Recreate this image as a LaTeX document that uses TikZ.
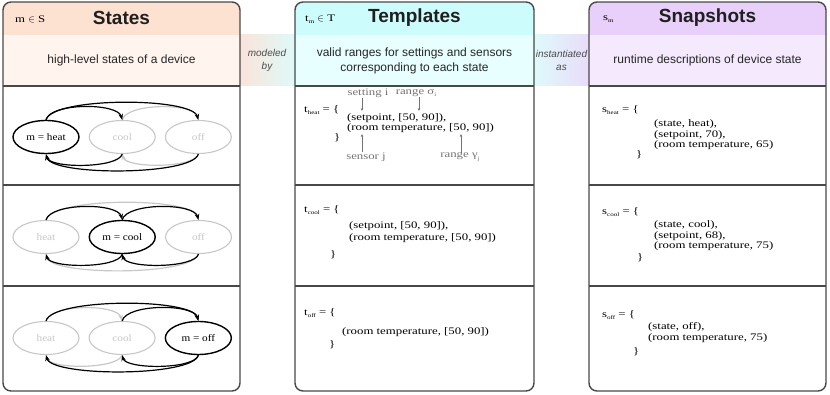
\documentclass[tikz,border=0pt]{standalone}
\usepackage{fontspec}
\setmainfont{Liberation Serif}
\setsansfont{Liberation Sans}
\newfontfamily\wideserif[FakeStretch=1.28]{Liberation Serif}
\newfontfamily\ovalserif[FakeStretch=1.12]{Liberation Serif}
\usepackage{tikz}
\usetikzlibrary{arrows.meta, positioning, shapes.geometric}
\definecolor{stHead}{RGB}{253,226,210}
\definecolor{stSub}{RGB}{255,244,238}
\definecolor{tmHead}{RGB}{204,252,252}
\definecolor{tmSub}{RGB}{232,255,255}
\definecolor{snHead}{RGB}{232,208,250}
\definecolor{snSub}{RGB}{245,233,253}
\definecolor{bandA}{RGB}{250,228,218}
\definecolor{bandB}{RGB}{222,250,250}
\definecolor{bandC}{RGB}{234,220,250}
\definecolor{frame}{RGB}{72,72,72}
\newcommand{\lowidx}[1]{\raisebox{-0.45ex}{\fontsize{5.5}{6}\selectfont #1}}

\begin{document}
\begin{tikzpicture}[x=1pt, y=1pt,
    every node/.style={inner sep=0pt},
    head/.style={font=\sffamily\bfseries\fontsize{19}{19}\selectfont, text=black!88},
    tag/.style={font=\wideserif\fontsize{10}{10}\selectfont, anchor=west},
    sub/.style={font=\sffamily\fontsize{12}{15}\selectfont, text=black!85, align=center},
    band/.style={font=\sffamily\itshape\fontsize{10}{13}\selectfont, text=black!70, align=center},
    code/.style={font=\wideserif\fontsize{10}{10.5}\selectfont, align=left, anchor=west},
    note/.style={font=\wideserif\fontsize{10}{10}\selectfont, text=black!55},
    ann/.style={-{Stealth[length=3pt,width=2.6pt]}, draw=black!55, line width=0.5pt},
    st/.style={ellipse, draw=black!22, line width=1.1pt, minimum width=66pt, minimum height=33pt,
               text=black!22, font=\ovalserif\fontsize{10}{10}\selectfont},
    cur/.style={st, draw=black, text=black, line width=1.4pt},
    tr/.style={-{Stealth[length=6pt,width=4.5pt]}, line width=1.2pt},
    trg/.style={tr, draw=black!22},
    arcup/.style={out=75, in=105, looseness=#1},
    arcdn/.style={out=-105, in=-75, looseness=#1},
    panel/.style={draw=frame, line width=1.4pt, rounded corners=8pt},
    rule/.style={draw=frame, line width=1.2pt}
  ]
    \useasboundingbox (0,0) rectangle (830,-395);

    % bands between the panels
    \shade[left color=bandA, right color=bandB] (240,-35) rectangle (295,-86);
    \shade[left color=bandB, right color=bandC] (534,-35) rectangle (589,-86);

    % panels
    \begin{scope}
      \clip[rounded corners=8pt] (3,-2) rectangle (240,-391);
      \fill[stHead] (3,-2) rectangle (240,-35);
      \fill[stSub] (3,-35) rectangle (240,-86);
    \end{scope}
    \begin{scope}
      \clip[rounded corners=8pt] (295,-2) rectangle (534,-391);
      \fill[tmHead] (295,-2) rectangle (534,-35);
      \fill[tmSub] (295,-35) rectangle (534,-86);
    \end{scope}
    \begin{scope}
      \clip[rounded corners=8pt] (589,-2) rectangle (826,-391);
      \fill[snHead] (589,-2) rectangle (826,-35);
      \fill[snSub] (589,-35) rectangle (826,-86);
    \end{scope}
    \draw[panel] (3,-2) rectangle (240,-391);
    \draw[panel] (295,-2) rectangle (534,-391);
    \draw[panel] (589,-2) rectangle (826,-391);
    \draw[rule] (3,-86) -- (240,-86) (3,-185) -- (240,-185) (3,-286) -- (240,-286);
    \draw[rule] (295,-86) -- (534,-86) (295,-185) -- (534,-185) (295,-286) -- (534,-286);
    \draw[rule] (589,-86) -- (826,-86) (589,-185) -- (826,-185) (589,-286) -- (826,-286);

    % headers
    \node[tag]  (mS)     at (15,-19)    {m $\in$ S};
    \node[head] (statesH) at (121.5,-18) {States};
    \node[tag]  (tT)     at (305,-19)   {t\lowidx{m} $\in$ T};
    \node[head] (tmplH)  at (414.5,-18) {Templates};
    \node[tag]  (sm)     at (603,-19)   {s\lowidx{m}};
    \node[head] (snapH)  at (707.5,-18) {Snapshots};

    \node[sub]  (stSubT) at (121.5,-60) {high-level states of a device};
    \node[sub]  (tmSubT) at (414.5,-60.5) {valid ranges for settings and sensors\\corresponding to each state};
    \node[sub]  (snSubT) at (707.5,-60) {runtime descriptions of device state};
    \node[band] (modeled) at (267,-60)  {modeled\\by};
    \node[band] (inst)    at (561.5,-60) {instantiated\\as};

    % states: heat
    \node[cur] (heatA) at (46,-137) {m = heat};
    \node[st, right=9pt of heatA] (coolA) {cool};
    \node[st, right=9pt of coolA] (offA)  {off};
    \draw[trg] (coolA.north) to[arcup=0.6] (offA.north);
    \draw[trg] (offA.south) to[arcdn=0.5] (coolA.south);
    \draw[tr] (heatA.north) to[arcup=0.6] (coolA.north);
    \draw[tr] (heatA.north) to[arcup=0.4] (offA.north);
    \draw[tr] (coolA.south) to[arcdn=0.5] (heatA.south);
    \draw[tr] (offA.south) to[arcdn=0.38] (heatA.south);

    % states: cool
    \node[st] (heatB) at (46,-237) {heat};
    \node[cur, right=9pt of heatB] (coolB) {m = cool};
    \node[st, right=9pt of coolB] (offB)  {off};
    \draw[trg] (heatB.north) to[arcup=0.4] (offB.north);
    \draw[trg] (offB.south) to[arcdn=0.38] (heatB.south);
    \draw[tr] (heatB.north) to[arcup=0.6] (coolB.north);
    \draw[tr] (coolB.north) to[arcup=0.6] (offB.north);
    \draw[tr] (coolB.south) to[arcdn=0.5] (heatB.south);
    \draw[tr] (offB.south) to[arcdn=0.5] (coolB.south);

    % states: off
    \node[st] (heatC) at (46,-338) {heat};
    \node[st, right=9pt of heatC] (coolC) {cool};
    \node[cur, right=9pt of coolC] (offC)  {m = off};
    \draw[trg] (heatC.north) to[arcup=0.6] (coolC.north);
    \draw[trg] (coolC.south) to[arcdn=0.5] (heatC.south);
    \draw[tr] (heatC.north) to[arcup=0.4] (offC.north);
    \draw[tr] (coolC.north) to[arcup=0.6] (offC.north);
    \draw[tr] (offC.south) to[arcdn=0.5] (coolC.south);
    \draw[tr] (offC.south) to[arcdn=0.38] (heatC.south);

    % templates
    \node[tag]  (theat)    at (304,-110) {t\lowidx{heat} = \{};
    \node[note] (seti)     at (368,-93)  {setting i};
    \node[note] (rsig)     at (416,-93)  {range σ\lowidx{i}};
    \node[code] (theatbody) at (347,-123) {(setpoint, [50, 90]),\\(room temperature, [50, 90])};
    \node[code] (theatend) at (334,-138) {\}};
    \node[note] (sensj)    at (366,-157) {sensor j};
    \node[note] (rgam)     at (460,-157) {range γ\lowidx{j}};
    \coordinate (setiend)  at (362,-111);
    \coordinate (rsigend)  at (419,-111);
    \coordinate (sensjend) at (362,-134);
    \coordinate (rgamend)  at (461,-134);
    \draw[ann] (seti.south -| setiend) -- (setiend);
    \draw[ann] (rsig.south -| rsigend) -- (rsigend);
    \draw[ann] (sensj.north -| sensjend) -- (sensjend);
    \draw[ann] (rgam.north -| rgamend) -- (rgamend);

    \node[code] (tcool)    at (304,-210) {t\lowidx{cool} = \{};
    \node[code] (tcoolbody) at (349,-232) {(setpoint, [50, 90]),\\[1.5pt](room temperature, [50, 90])};
    \node[code] (tcoolend) at (330,-255) {\}};

    \node[code] (toff)     at (304,-313) {t\lowidx{off} = \{};
    \node[code] (toffbody) at (342,-332) {(room temperature, [50, 90])};
    \node[code] (toffend)  at (329,-345) {\}};

    % snapshots
    \node[tag]  (sheat)    at (602,-110) {s\lowidx{heat} = \{};
    \node[code] (sheatbody) at (654,-135) {(state, heat),\\(setpoint, 70),\\(room temperature, 65)};
    \node[code] (sheatend) at (636,-155) {\}};

    \node[tag]  (scool)    at (602,-212) {s\lowidx{cool} = \{};
    \node[code] (scoolbody) at (654,-236) {(state, cool),\\(setpoint, 68),\\(room temperature, 75)};
    \node[code] (scoolend) at (637,-258) {\}};

    \node[tag]  (soff)     at (602,-315) {s\lowidx{off} = \{};
    \node[code] (soffbody) at (648,-332.5) {(state, off),\\(room temperature, 75)};
    \node[code] (soffend)  at (633,-352) {\}};
\end{tikzpicture}
\end{document}
